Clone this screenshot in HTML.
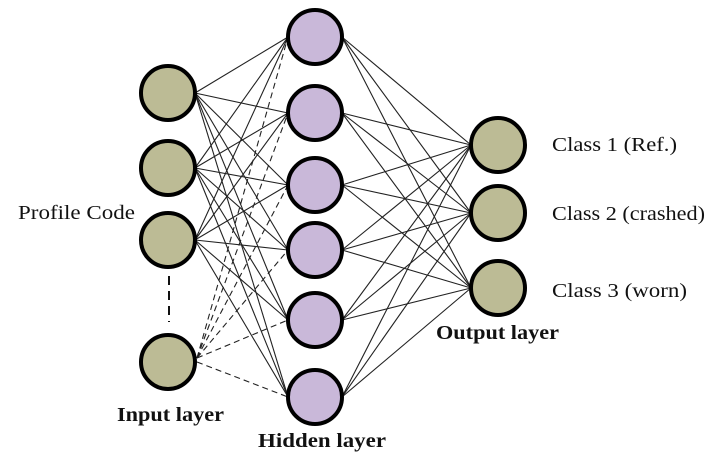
<!DOCTYPE html>
<html><head><meta charset="utf-8"><style>
html,body{margin:0;padding:0;background:#fff;}
svg{display:block}
text{font-family:"Liberation Serif",serif;fill:#111;}
</style></head><body>
<svg width="709" height="455" viewBox="0 0 709 455" xmlns="http://www.w3.org/2000/svg">
<g stroke="#222" stroke-width="1.1">
<line x1="195" y1="93" x2="288" y2="37"/><line x1="195" y1="93" x2="288" y2="113"/><line x1="195" y1="93" x2="288" y2="185"/><line x1="195" y1="93" x2="288" y2="250"/><line x1="195" y1="93" x2="288" y2="320"/><line x1="195" y1="93" x2="288" y2="397"/>
<line x1="195" y1="168" x2="288" y2="37"/><line x1="195" y1="168" x2="288" y2="113"/><line x1="195" y1="168" x2="288" y2="185"/><line x1="195" y1="168" x2="288" y2="250"/><line x1="195" y1="168" x2="288" y2="320"/><line x1="195" y1="168" x2="288" y2="397"/>
<line x1="195" y1="240" x2="288" y2="37"/><line x1="195" y1="240" x2="288" y2="113"/><line x1="195" y1="240" x2="288" y2="185"/><line x1="195" y1="240" x2="288" y2="250"/><line x1="195" y1="240" x2="288" y2="320"/><line x1="195" y1="240" x2="288" y2="397"/>
<line x1="342" y1="37" x2="471" y2="145"/><line x1="342" y1="37" x2="471" y2="213"/><line x1="342" y1="37" x2="471" y2="288"/>
<line x1="342" y1="113" x2="471" y2="145"/><line x1="342" y1="113" x2="471" y2="213"/><line x1="342" y1="113" x2="471" y2="288"/>
<line x1="342" y1="185" x2="471" y2="145"/><line x1="342" y1="185" x2="471" y2="213"/><line x1="342" y1="185" x2="471" y2="288"/>
<line x1="342" y1="250" x2="471" y2="145"/><line x1="342" y1="250" x2="471" y2="213"/><line x1="342" y1="250" x2="471" y2="288"/>
<line x1="342" y1="320" x2="471" y2="145"/><line x1="342" y1="320" x2="471" y2="213"/><line x1="342" y1="320" x2="471" y2="288"/>
<line x1="342" y1="397" x2="471" y2="145"/><line x1="342" y1="397" x2="471" y2="213"/><line x1="342" y1="397" x2="471" y2="288"/>
</g>
<g stroke="#222" stroke-width="1.1" stroke-dasharray="6,4">
<line x1="197" y1="358" x2="288" y2="37"/><line x1="197" y1="358" x2="288" y2="113"/><line x1="197" y1="358" x2="288" y2="185"/><line x1="197" y1="358" x2="288" y2="250"/><line x1="197" y1="358" x2="288" y2="320"/><line x1="197" y1="362" x2="288" y2="397"/>
</g>
<line x1="169" y1="276" x2="169" y2="322" stroke="#111" stroke-width="2" stroke-dasharray="9,6"/>
<g stroke="#000" stroke-width="4" fill="#bcbb95">
<circle cx="168" cy="93" r="27"/><circle cx="168" cy="168" r="27"/><circle cx="168" cy="240" r="27"/><circle cx="168" cy="362" r="27"/>
<circle cx="498" cy="145" r="27"/><circle cx="498" cy="213" r="27"/><circle cx="498" cy="288" r="27"/>
</g>
<g stroke="#000" stroke-width="4" fill="#c9b8d9">
<circle cx="315" cy="37" r="27"/><circle cx="315" cy="113" r="27"/><circle cx="315" cy="185" r="27"/><circle cx="315" cy="250" r="27"/><circle cx="315" cy="320" r="27"/><circle cx="315" cy="397" r="27"/>
</g>
<text x="18" y="219" font-size="20" textLength="117" lengthAdjust="spacingAndGlyphs">Profile Code</text>
<text x="117" y="421" font-size="20" font-weight="bold" textLength="107" lengthAdjust="spacingAndGlyphs">Input layer</text>
<text x="258" y="447" font-size="20" font-weight="bold" textLength="128" lengthAdjust="spacingAndGlyphs">Hidden layer</text>
<text x="436" y="339" font-size="20" font-weight="bold" textLength="123" lengthAdjust="spacingAndGlyphs">Output layer</text>
<text x="552" y="151" font-size="20" textLength="125" lengthAdjust="spacingAndGlyphs">Class 1 (Ref.)</text>
<text x="552" y="220" font-size="20" textLength="153" lengthAdjust="spacingAndGlyphs">Class 2 (crashed)</text>
<text x="552" y="297" font-size="20" textLength="135" lengthAdjust="spacingAndGlyphs">Class 3 (worn)</text>
</svg>
</body></html>
